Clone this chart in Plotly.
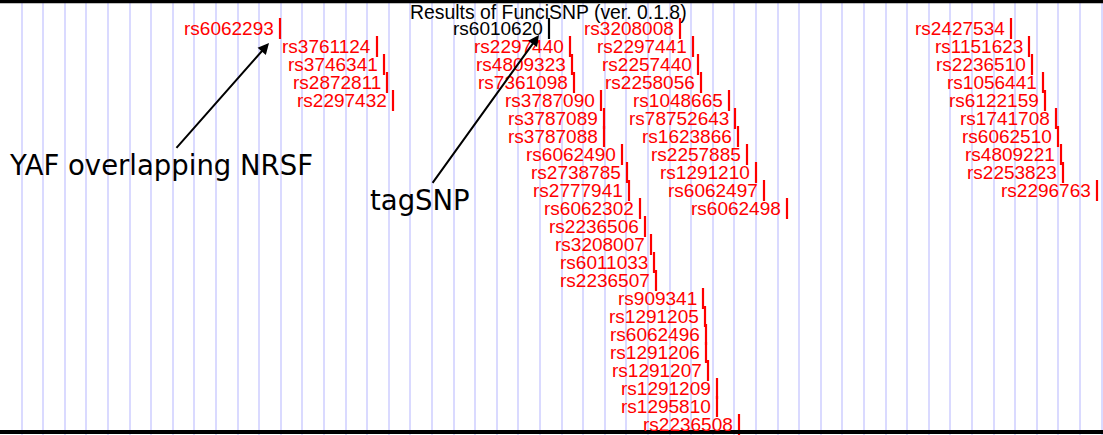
import plotly.graph_objects as go

# ---------------- data ----------------
snp_ids = [
    "rs6062293", "rs3761124", "rs3746341", "rs2872811", "rs2297432",
    "rs6010620", "rs2297440", "rs4809323", "rs7361098", "rs3787090",
    "rs3787089", "rs3787088", "rs6062490", "rs2738785", "rs2777941",
    "rs6062302", "rs2236506", "rs3208007", "rs6011033", "rs2236507",
    "rs909341", "rs1291205", "rs6062496", "rs1291206", "rs1291207",
    "rs1291209", "rs1295810", "rs2236508",
    "rs3208008", "rs2297441", "rs2257440", "rs2258056", "rs1048665",
    "rs78752643", "rs1623866", "rs2257885", "rs1291210", "rs6062497",
    "rs6062498",
    "rs2427534", "rs1151623", "rs2236510", "rs1056441", "rs6122159",
    "rs1741708", "rs6062510", "rs4809221", "rs2253823", "rs2296763",
]
snp_pos = [
    280, 377, 384, 387, 393,
    549, 570, 572, 574, 601,
    604, 604, 622, 627, 629,
    640, 645, 651, 654, 656,
    703, 705, 706, 706, 708,
    717, 717, 739,
    680, 693, 698, 701, 729,
    735, 738, 747, 756, 764,
    787,
    1011, 1029, 1032, 1043, 1045,
    1056, 1058, 1061, 1063, 1097,
]
snp_row = [
    1, 2, 3, 4, 5,
    1, 2, 3, 4, 5,
    6, 7, 8, 9, 10,
    11, 12, 13, 14, 15,
    16, 17, 18, 19, 20,
    21, 22, 23,
    1, 2, 3, 4, 5,
    6, 7, 8, 9, 10,
    11,
    1, 2, 3, 4, 5,
    6, 7, 8, 9, 10,
]
tag_snp = "rs6010620"
title_text = "Results of FunciSNP (ver. 0.1.8)"

# callouts: (text, arrow tip x, tip row, text x, text row)
callout_text = ["YAF overlapping NRSF", "tagSNP"]
callout_tip_x = [269, 539]
callout_tip_row = [1.81, 1.36]
callout_txt_x = [161, 420]
callout_txt_row = [8.6, 10.55]

# ---------------- figure ----------------
W, H = 1103, 435
row_top_px = 28.5
row_step_px = 18.0
y_top = 1 - row_top_px / row_step_px
y_bot = 1 + (H - row_top_px) / row_step_px

colors = ["black" if s == tag_snp else "red" for s in snp_ids]

fig = go.Figure()
fig.add_trace(go.Scatter(
    x=snp_pos, y=snp_row, mode="markers",
    marker=dict(symbol="line-ns", size=15,
                line=dict(width=2.2, color=colors), color=colors),
    hoverinfo="skip", showlegend=False,
))

for s, p, r, c in zip(snp_ids, snp_pos, snp_row, colors):
    fig.add_annotation(
        x=p, y=r, text=s, showarrow=False,
        xanchor="right", yanchor="middle", xshift=-4, yshift=0,
        font=dict(family="Liberation Sans, Arial, sans-serif", size=19, color=c),
    )

for t, tx, tr, ax, ar in zip(callout_text, callout_tip_x, callout_tip_row,
                              callout_txt_x, callout_txt_row):
    fig.add_annotation(
        x=tx, y=tr, ax=ax, ay=ar, xref="x", yref="y", axref="x", ayref="y",
        text=t, showarrow=True, arrowhead=2, arrowsize=1.1, arrowwidth=2,
        arrowcolor="black", standoff=0,
        font=dict(family="DejaVu Sans, sans-serif", size=27.5, color="black"),
    )

fig.add_annotation(
    x=0.4973, y=1 - 12.0 / H, xref="paper", yref="paper",
    text=title_text, showarrow=False, xanchor="center", yanchor="middle",
    font=dict(family="Liberation Sans, Arial, sans-serif", size=19.4, color="black"),
)

# thick frame lines at top and bottom
fig.add_shape(type="rect", xref="paper", yref="paper",
              x0=0, x1=1, y0=1 - 3.3 / H, y1=1,
              fillcolor="black", line=dict(width=0))
fig.add_shape(type="rect", xref="paper", yref="paper",
              x0=0, x1=1, y0=1.0 / H, y1=5.0 / H,
              fillcolor="black", line=dict(width=0))

fig.update_layout(
    width=W, height=H,
    margin=dict(l=0, r=0, t=0, b=0),
    paper_bgcolor="white", plot_bgcolor="white",
    showlegend=False,
    xaxis=dict(range=[0, W], showgrid=True, gridcolor="#DADAFF", gridwidth=1.5,
               tick0=0, dtick=21.6, zeroline=False, showticklabels=False,
               ticks="", showline=False, fixedrange=True),
    yaxis=dict(range=[y_bot, y_top], showgrid=False, zeroline=False,
               showticklabels=False, ticks="", showline=False, fixedrange=True),
)

fig.write_html(
    "out.html",
    config={"displayModeBar": False},
    post_script="document.body.style.margin='0px';document.body.style.overflow='hidden';",
)
